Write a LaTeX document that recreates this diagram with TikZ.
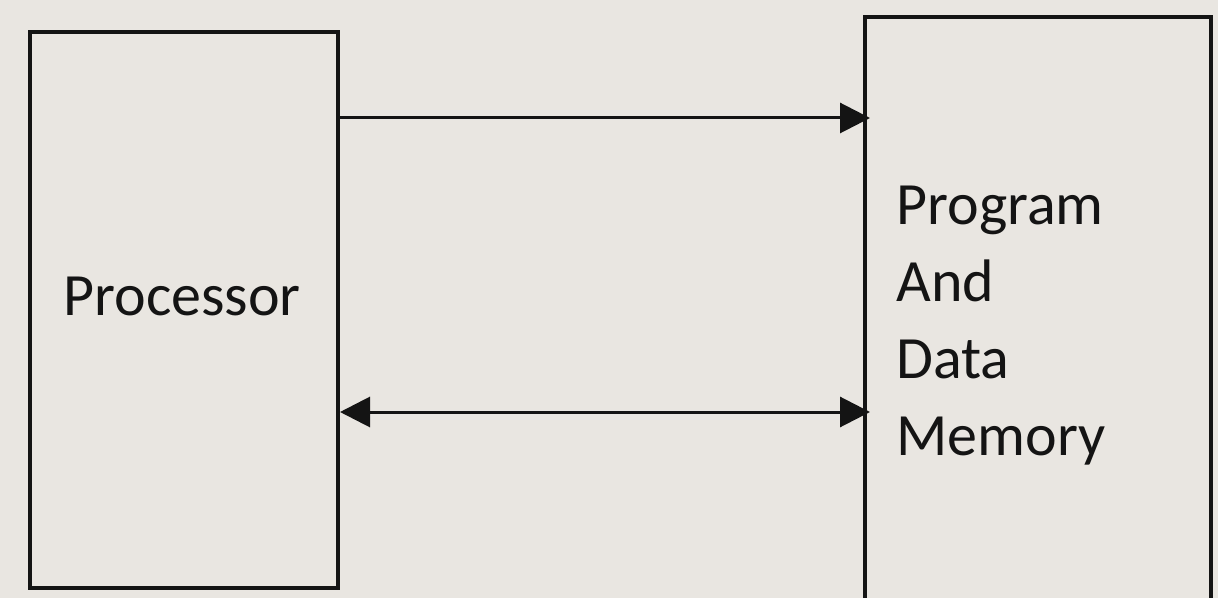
\documentclass[tikz,border=0pt]{standalone}
\usepackage{fontspec}
\setmainfont{Carlito}
\usetikzlibrary{arrows.meta}
\definecolor{paper}{RGB}{233,230,225}
\definecolor{ink}{RGB}{20,20,20}

\begin{document}
\begin{tikzpicture}[
  x=0.5pt, y=-0.5pt,
  box/.style={draw=ink,line width=2pt,inner sep=0pt,anchor=north west},
  lbl/.style={font=\fontsize{30}{38.5}\selectfont,text=ink,inner sep=0pt,
    align=left},
  arr/.style={draw=ink,line width=1.5pt,-{Triangle[length=15pt,width=15pt]}}
]
\fill[paper] (0,0) rectangle (1218,598);
\useasboundingbox (0,0) rectangle (1218,598);
\clip (0,0) rectangle (1218,598);
\node[box,minimum width=154pt,minimum height=278pt] (proc) at (28,30) {};
\node[box,minimum width=173pt,minimum height=300pt] (mem) at (863,15) {};
\node[lbl,anchor=base west] (proctext) at (63,315) {Processor};
\node[lbl,anchor=base west] (memtext) at (896,455)
  {Program\\And\\Data\\Memory};
\coordinate (up) at (0,118);
\coordinate (dn) at (0,412);
\draw[arr,shorten >=-3.5pt] (proc.east |- up) -- (mem.west |- up);
\draw[arr,{Triangle[length=15pt,width=15pt]}-{Triangle[length=15pt,width=15pt]},
  shorten >=-3.5pt] (proc.east |- dn) -- (mem.west |- dn);
\end{tikzpicture}
\end{document}
